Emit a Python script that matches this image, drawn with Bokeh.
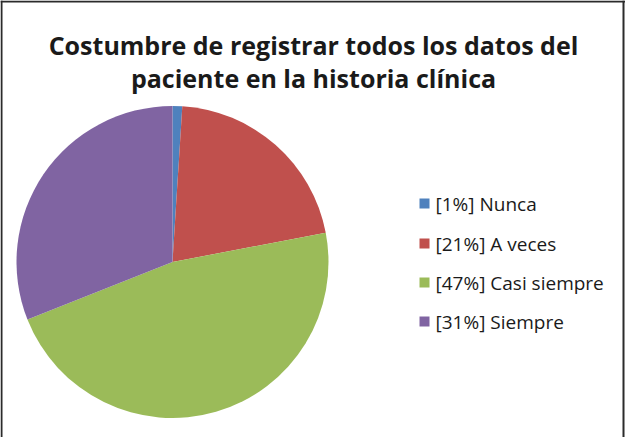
import numpy as np
from bokeh.plotting import figure
from bokeh.models import ColumnDataSource
from bokeh.core.properties import value
from bokeh.embed import file_html
from bokeh.resources import INLINE

# data
categories = ["Nunca", "A veces", "Casi siempre", "Siempre"]
percents = [1, 21, 47, 31]
colors = ["#4F81BD", "#C0504D", "#9BBB59", "#8064A2"]
title_lines = ["Costumbre de registrar todos los datos del",
               "paciente en la historia clínica"]

W, H = 625, 437
p = figure(width=W, height=H, x_range=(0, W), y_range=(0, H),
           output_backend="svg", toolbar_location=None, min_border=0,
           tools="")
p.axis.visible = False
p.grid.visible = False
p.outline_line_color = None
p.background_fill_color = "white"
p.border_fill_color = "white"

# frame lines (left, top, right)
p.segment(x0=[1, 0, W - 2], y0=[0, H - 1, 0], x1=[1, W, W - 2], y1=[H, H - 1, H],
          line_color="#2b2b2b", line_width=2)

# pie
vals = np.array(percents, dtype=float)
frac = vals / vals.sum()
cum = np.concatenate([[0], np.cumsum(frac)])
start = np.pi / 2 - cum[1:] * 2 * np.pi
end = np.pi / 2 - cum[:-1] * 2 * np.pi
cx, cy, r = 172, 175.5, 156
src = ColumnDataSource(dict(start=start, end=end, color=colors))
p.wedge(x=cx, y=cy, radius=r, start_angle="start", end_angle="end",
        fill_color="color", line_color=None, source=src)

# title
p.text(x=[313, 313], y=[393, 360], text=title_lines, text_align="center",
       text_baseline="alphabetic", text_font=value("Open Sans"),
       text_font_style="bold", text_font_size="25px", text_color="#1a1a1a")

# legend
ly = [234, 194, 155, 116]
labels = [f"[{v}%] {c}" for v, c in zip(percents, categories)]
p.scatter(x=[424] * 4, y=ly, marker="square", size=10, fill_color=colors,
          line_color=None)
p.text(x=[435] * 4, y=ly, text=labels, text_align="left",
       text_baseline="middle", text_font=value("Open Sans"),
       text_font_size="19px", text_color="#1a1a1a")

open("out.html", "w").write(file_html(p, INLINE))
